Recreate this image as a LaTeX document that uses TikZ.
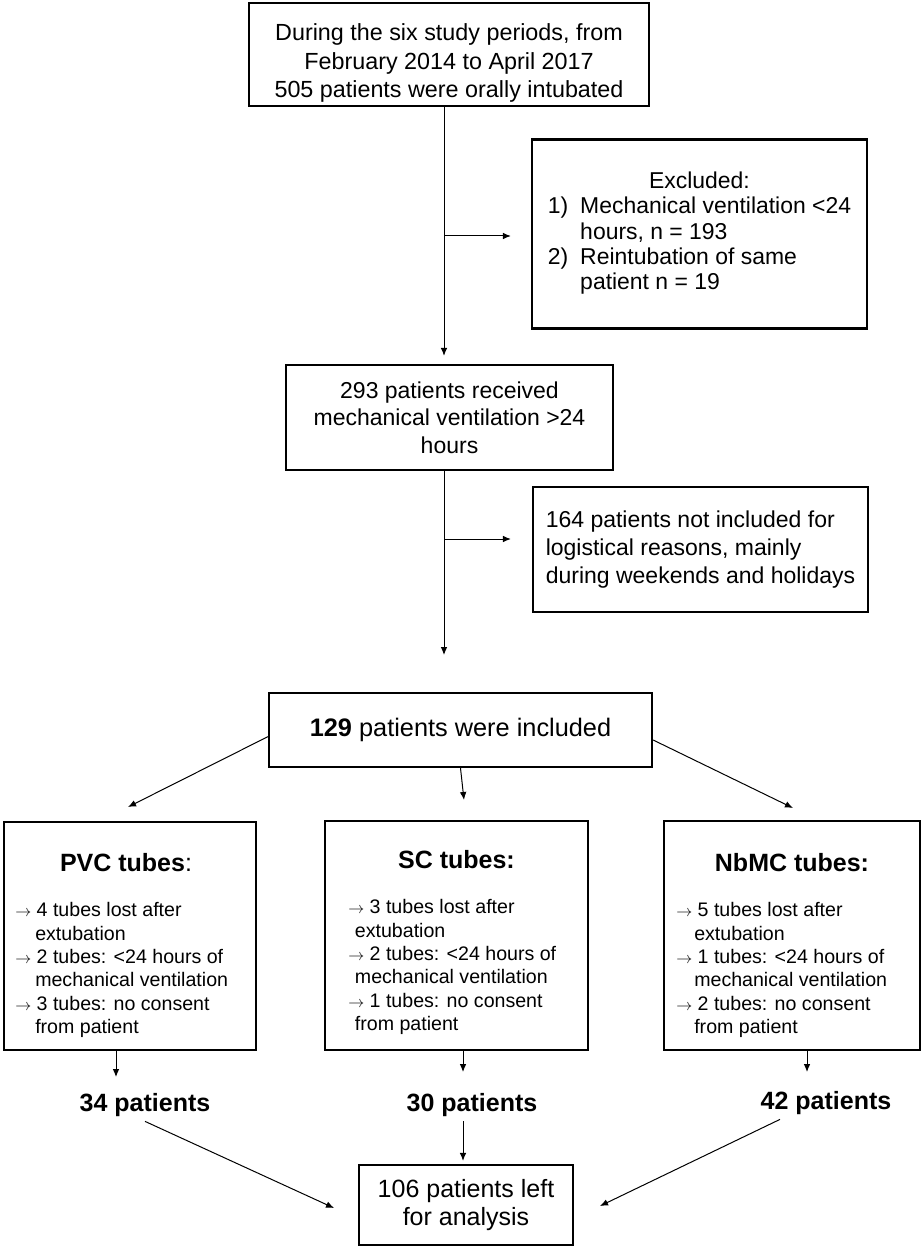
\documentclass[tikz,border=0pt]{standalone}
\usepackage{fontspec}
\setmainfont{Liberation Sans}
\usetikzlibrary{arrows.meta,positioning}

\newcommand{\tubearr}{{\fontsize{12.5}{12}\selectfont$\rightarrow$}}

\begin{document}
\begin{tikzpicture}[x=0.75pt, y=-0.75pt,
    box/.style={draw, line width=1.7pt, inner sep=0pt},
    arr/.style={-{Latex[length=6pt,width=5pt]}, line width=0.75pt},
    txt/.style={align=center, font=\fontsize{17.5}{21.4}\selectfont},
    list/.style={align=left, anchor=west, inner sep=0pt, font=\fontsize{14.7}{17.5}\selectfont},
    head/.style={font=\fontsize{18.75}{20}\selectfont},
    count/.style={font=\bfseries\fontsize{18.75}{20}\selectfont}]
	\useasboundingbox (0,0) rectangle (922,1248);

	% top part
	\node[box, minimum width=300pt, minimum height=77.25pt] (start) at (449,54.5) {};
	\node[txt] (starttxt) at (449,63) {During the six study periods, from\\February 2014 to April 2017\\505 patients were orally intubated};

	\node[box, minimum width=251.25pt, minimum height=141.75pt, font=\fontsize{17.2}{18.8}\selectfont] (excluded) at (699.5,234)
		{\begin{tabular}{@{}l@{\hspace{9pt}}l@{}}
			\multicolumn{2}{c}{Excluded:}\\
			1) & Mechanical ventilation <24\\
			   & hours, n = 193\\
			2) & Reintubation of same\\
			   & patient n = 19
		\end{tabular}};

	\node[box, txt, minimum width=245.25pt, minimum height=78.75pt, font=\fontsize{17.25}{20.6}\selectfont] (received) at (449.5,417.5) {293 patients received\\mechanical ventilation >24\\hours};

	\node[box, minimum width=251.25pt, minimum height=93.75pt, align=left, font=\fontsize{17.25}{21}\selectfont] (notincl) at (700.5,549.5) {164 patients not included for\\logistical reasons, mainly\\during weekends and holidays};

	\node[box, minimum width=287.25pt, minimum height=55.5pt, font=\fontsize{19}{22}\selectfont] (included) at (460.5,730) {\textbf{129} patients were included};

	% the three tube groups
	\node[box, minimum width=189pt, minimum height=171pt] (pvc) at (130,936) {};
	\node[box, minimum width=197.25pt, minimum height=171.75pt] (sc) at (456.5,935.5) {};
	\node[box, minimum width=192pt, minimum height=171.75pt] (nbmc) at (792,935.5) {};

	\node[head] (pvchead) at (126,863) {\textbf{PVC tubes}:};
	\node[head] (schead) at (456.5,860) {\textbf{SC tubes:}};
	\node[head] (nbmchead) at (792,863) {\textbf{NbMC tubes:}};

	\node[list] (pvclist) at (15,970) {\tubearr{} 4 tubes lost after\\\hspace*{15pt}extubation\\\tubearr{} 2 tubes: <24 hours of\\\hspace*{15pt}mechanical ventilation\\\tubearr{} 3 tubes: no consent\\\hspace*{15pt}from patient};
	\node[list] (sclist) at (348,967) {\tubearr{} 3 tubes lost after\\\hspace*{5pt}extubation\\\tubearr{} 2 tubes: <24 hours of\\\hspace*{5pt}mechanical ventilation\\\tubearr{} 1 tubes: no consent\\\hspace*{5pt}from patient};
	\node[list] (nbmclist) at (676,970) {\tubearr{} 5 tubes lost after\\\hspace*{13.5pt}extubation\\\tubearr{} 1 tubes: <24 hours of\\\hspace*{13.5pt}mechanical ventilation\\\tubearr{} 2 tubes: no consent\\\hspace*{13.5pt}from patient};

	\node[count] (n34) at (145,1105) {34 patients};
	\node[count] (n30) at (472,1105) {30 patients};
	\node[count] (n42) at (826,1103) {42 patients};

	\node[box, txt, minimum width=160.5pt, minimum height=60pt, font=\fontsize{18.75}{21}\selectfont] (final) at (466,1205) {106 patients left\\for analysis};

	% main line with the two side branches
	\coordinate (spine) at (444,0);
	\coordinate (split1) at (444,236);
	\coordinate (split2) at (444,539);
	\coordinate (gap) at (444,655);
	\draw[arr, shorten >=6pt] (start.south -| spine) -- (received.north -| spine);
	\draw[arr, shorten >=15pt] (split1) -- (split1 -| excluded.west);
	\draw[arr] (received.south -| spine) -- (gap);
	\draw[arr, shorten >=15.75pt] (split2) -- (split2 -| notincl.west);

	% fan out to the groups
	\coordinate (pvcin) at (128,807);
	\coordinate (scin) at (464,800);
	\coordinate (nbmcin) at (793,808);
	\draw[arr] ([yshift=-5pt]included.west) -- (pvcin);
	\draw[arr] (included.south) -- (scin);
	\draw[arr] ([yshift=-7.5pt]included.east) -- (nbmcin);

	\coordinate (pvcout) at (116,1077);
	\coordinate (scout) at (463,1072);
	\coordinate (nbmcout) at (807,1072);
	\draw[arr] (pvc.south -| pvcout) -- (pvcout);
	\draw[arr] (sc.south -| scout) -- (scout);
	\draw[arr] (nbmc.south -| nbmcout) -- (nbmcout);

	% into the last box
	\coordinate (in34) at (334,1208);
	\coordinate (in42) at (600,1206);
	\draw[arr] (n34.south) -- (in34);
	\draw[arr, shorten >=2.25pt] (n30.south -| scout) -- (scout |- final.north);
	\draw[arr] ([xshift=-34.5pt]n42.south) -- (in42);
\end{tikzpicture}
\end{document}
